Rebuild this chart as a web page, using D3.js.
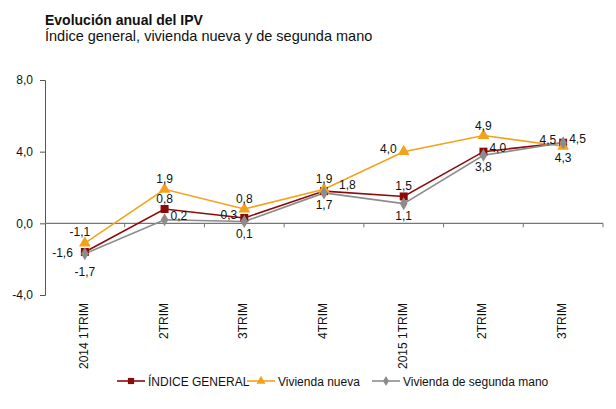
<!DOCTYPE html>
<html><head><meta charset="utf-8">
<script src="https://cdn.jsdelivr.net/npm/d3@7/dist/d3.min.js"></script>
<style>body{margin:0;background:#fff}svg{font-family:"Liberation Sans",Arial,sans-serif}</style>
</head><body><svg id="c" width="616" height="409"></svg>
<script>
const categories = ["2014 1TRIM","2TRIM","3TRIM","4TRIM","2015 1TRIM","2TRIM","3TRIM"];
const indiceGeneral = [-1.6, 0.8, 0.3, 1.8, 1.5, 4.0, 4.5];
const viviendaNueva = [-1.1, 1.9, 0.8, 1.9, 4.0, 4.9, 4.3];
const segundaMano   = [-1.7, 0.2, 0.1, 1.7, 1.1, 3.8, 4.5];
const yTicks = [-4, 0, 4, 8];
// label placement per point
const posGeneral = ["farleft","above","left","farright","above","right","left"];
const posNueva   = ["aboveleft","above","above","above","left","above","below"];
const posSegunda = ["farbelow","right","below","below","below","below","right"];

const series = [
  {name:"ÍNDICE GENERAL", values:indiceGeneral, pos:posGeneral, color:"#8b0a0a", shape:d3.symbolSquare, size:64},
  {name:"Vivienda nueva", values:viviendaNueva, pos:posNueva, color:"#f5a21b", shape:d3.symbolTriangle, size:60},
  {name:"Vivienda de segunda mano", values:segundaMano, pos:posSegunda, color:"#8c8c8c", shape:d3.symbolDiamond, size:50}
];

const svg = d3.select("#c");
const fmt = v => d3.format(".1f")(v).replace(".", ",").replace("−","-");

const x = d3.scaleBand().domain(d3.range(categories.length)).range([45, 603]);
const cx = i => x(i) + x.bandwidth()/2;
const y = d3.scaleLinear().domain([-4, 8]).range([295, 80]);

svg.append("text").attr("x",45).attr("y",25).attr("font-size",14).attr("font-weight","bold").attr("fill","#111").text("Evolución anual del IPV");
svg.append("text").attr("x",45).attr("y",41).attr("font-size",14.5).attr("fill","#111").text("Índice general, vivienda nueva y de segunda mano");

// Y axis
const ya = svg.append("g").attr("transform","translate(45,0)")
  .call(d3.axisLeft(y).tickValues(yTicks).tickSize(5).tickPadding(7).tickFormat(fmt));
ya.select(".domain").attr("stroke","#555");
ya.selectAll(".tick line").attr("stroke","#555");
ya.selectAll("text").attr("font-size",12).attr("fill","#111").attr("font-family","Liberation Sans, Arial, sans-serif");

// X axis line at zero
const y0 = y(0);
svg.append("line").attr("x1",45).attr("x2",603).attr("y1",y0).attr("y2",y0).attr("stroke","#777").attr("stroke-width",1.2);
const bounds = d3.range(1, categories.length + 1).map(i => i < categories.length ? x(i) : x(categories.length-1)+x.bandwidth());
svg.selectAll(".xt").data(bounds).join("line")
  .attr("x1",d=>d).attr("x2",d=>d).attr("y1",y0).attr("y2",y0+4).attr("stroke","#777");
svg.selectAll(".xl").data(categories).join("text")
  .attr("transform",(d,i)=>`translate(${cx(i)+3},303) rotate(-90)`)
  .attr("text-anchor","end").attr("font-size",12).attr("fill","#111").text(d=>d);

// lines
const line = d3.line().x((d,i)=>cx(i)).y(d=>y(d));
series.forEach(s=>{
  svg.append("path").attr("d",line(s.values)).attr("fill","none").attr("stroke",s.color).attr("stroke-width",1.6);
});
series.forEach(s=>{
  svg.selectAll(null).data(s.values).join("path")
    .attr("d",d3.symbol().type(s.shape).size(s.size))
    .attr("transform",(d,i)=>`translate(${cx(i)},${y(d)})`).attr("fill",s.color);
});
// labels
const off = {
  above:[0,-6,"middle"], below:[0,16,"middle"], farbelow:[0,22,"middle"],
  left:[-7,1,"end"], farleft:[-12,5,"end"], right:[6,0,"start"], farright:[15,-2,"start"],
  aboveleft:[-5,-7,"middle"]
};
series.forEach(s=>{
  s.values.forEach((v,i)=>{
    const o = off[s.pos[i]];
    svg.append("text").attr("x",cx(i)+o[0]).attr("y",y(v)+o[1]).attr("text-anchor",o[2])
      .attr("font-size",12).attr("fill","#111").text(fmt(v));
  });
});

// legend
const legendX = [117, 247, 372];
series.forEach((s,k)=>{
  const g = svg.append("g").attr("transform",`translate(${legendX[k]},381)`);
  g.append("line").attr("x1",0).attr("x2",28).attr("stroke",s.color).attr("stroke-width",1.6);
  g.append("path").attr("d",d3.symbol().type(s.shape).size(s.size*0.6)).attr("transform","translate(14,0)").attr("fill",s.color);
  g.append("text").attr("x",31).attr("y",4.5).attr("font-size",12).attr("fill","#111").text(s.name);
});
</script></body></html>
